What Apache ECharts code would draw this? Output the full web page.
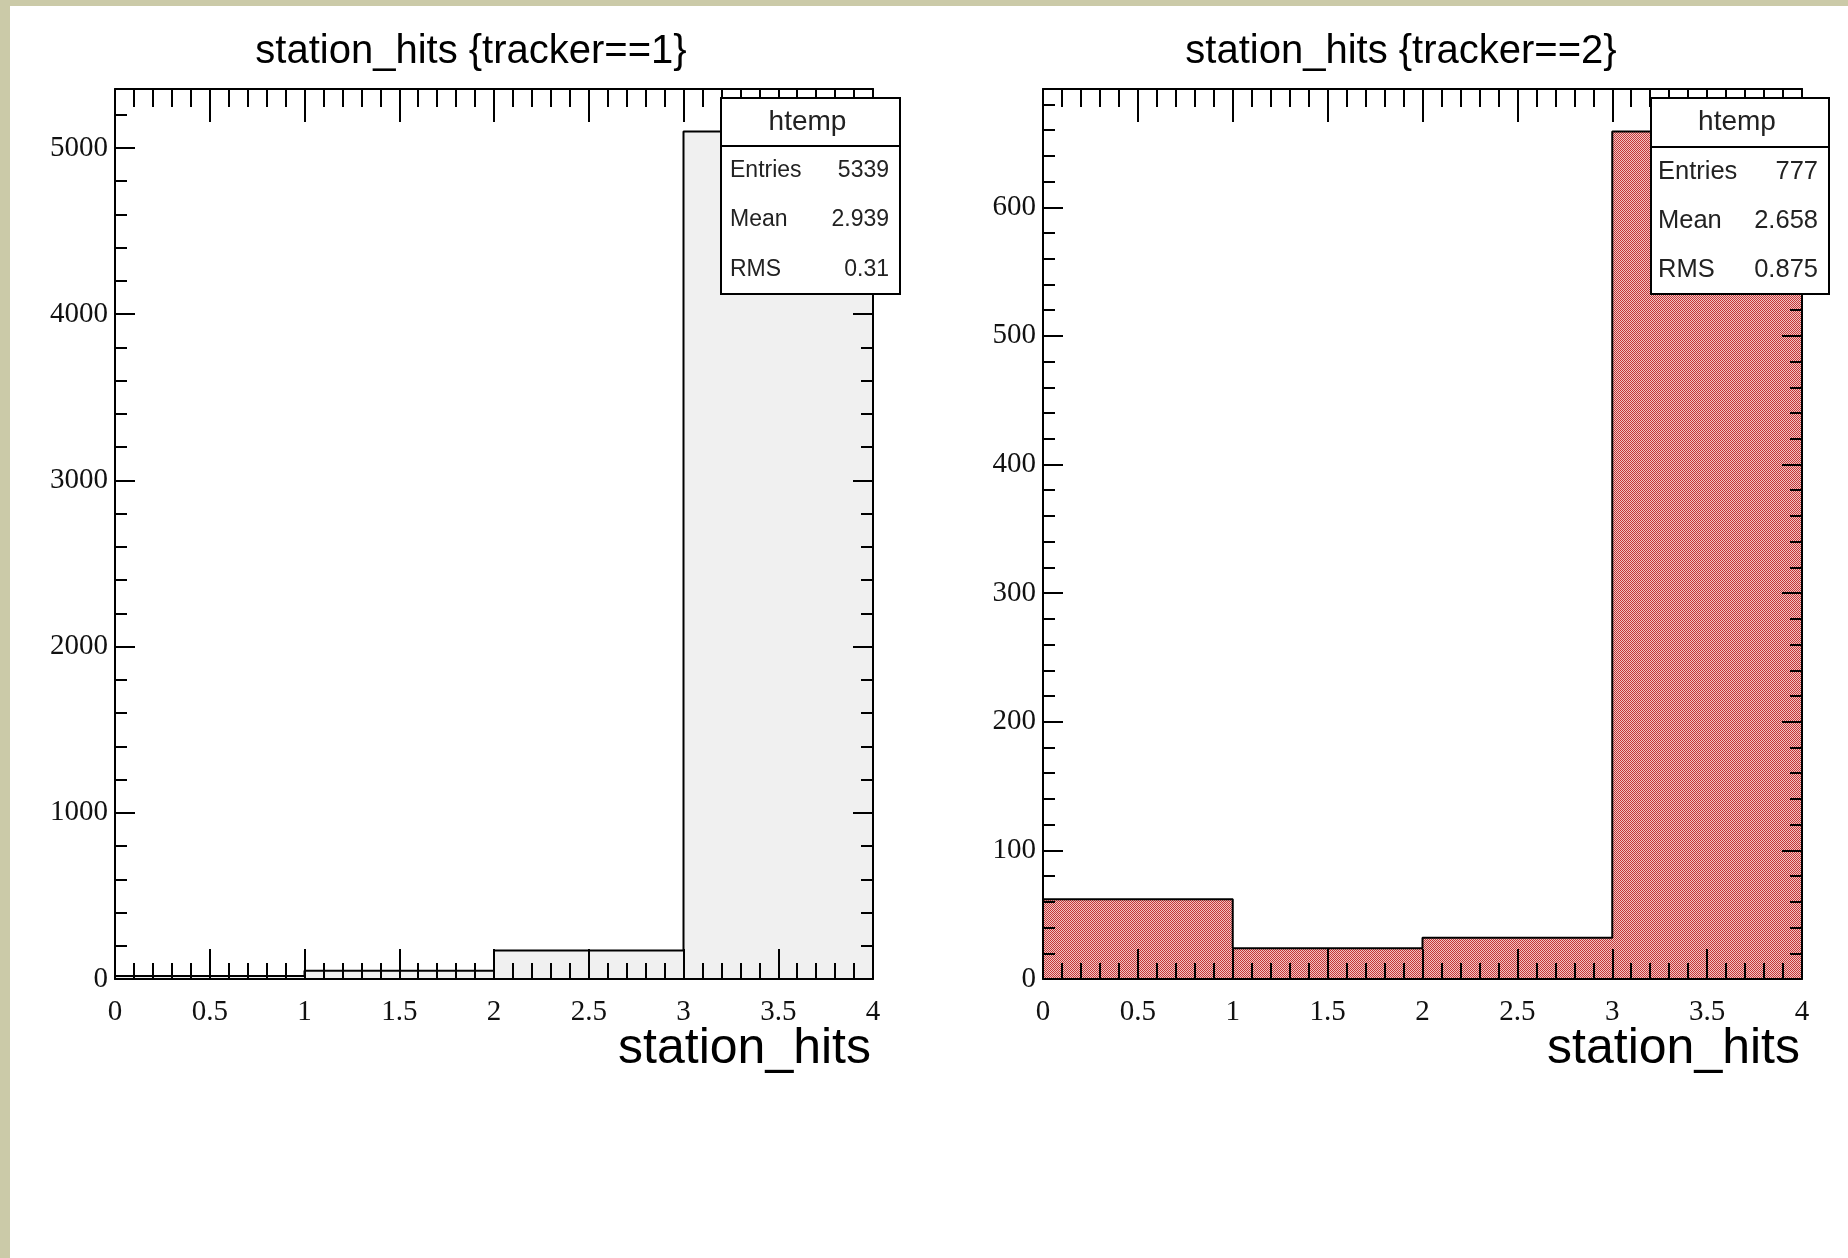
<!DOCTYPE html>
<html>
<head>
<meta charset="utf-8">
<script src="https://cdn.jsdelivr.net/npm/echarts@6/dist/echarts.min.js"></script>
<style>
  html, body { margin: 0; padding: 0; background: #ffffff; }
  #chart { width: 1848px; height: 1258px; }
</style>
</head>
<body>
<div id="chart"></div>
<script>
// Histogram contents: station_hits, one bin per integer value 0..3
const binEdges = [0, 1, 2, 3, 4];
const hitsTracker1 = [18, 50, 171, 5100];
const hitsTracker2 = [62, 24, 32, 659];

const panelTitles = ['station_hits {tracker==1}', 'station_hits {tracker==2}'];
const xAxisTitle = 'station_hits';
const histName = 'htemp';
const statNames = ['Entries', 'Mean', 'RMS'];

const yMajorStep = [1000, 100];
const yMinorStep = [200, 20];
const xMajorStep = 0.5;

// ---- helpers -------------------------------------------------------------

// ROOT style "%.4g" number formatting
function fmt4(v) { return String(Number(v.toPrecision(4))); }

// Entries / Mean / RMS of the filled values (bin low edges)
function histStats(counts) {
  let n = 0, s1 = 0, s2 = 0;
  counts.forEach((c, i) => {
    const x = binEdges[i];
    n += c; s1 += c * x; s2 += c * x * x;
  });
  const mean = s1 / n;
  const rms = Math.sqrt(s2 / n - mean * mean);
  return [String(n), fmt4(mean), fmt4(rms)];
}

// step outline points: hold each bin value across the bin
function stepPoints(counts) {
  const pts = counts.map((c, i) => [binEdges[i], c]);
  pts.push([binEdges[binEdges.length - 1], counts[counts.length - 1]]);
  return pts;
}

// fine dotted red fill
function dotPattern() {
  const c = document.createElement('canvas');
  c.width = 2; c.height = 2;
  const g = c.getContext('2d');
  g.fillStyle = '#f2c4c4';
  g.fillRect(0, 0, 2, 2);
  g.fillStyle = '#c43a3a';
  g.fillRect(0, 0, 1, 1);
  g.fillRect(1, 1, 1, 1);
  return c;
}

const panels = [
  { counts: hitsTracker1, fill: '#f0f0f0',
    grid: { left: 115, top: 89, width: 758, height: 890 },
    titleX: 471, box: { x: 721, y: 98, w: 179, h: 196, head: 48 },
    rowFont: 23, pad: 9 },
  { counts: hitsTracker2, fill: { image: dotPattern(), repeat: 'repeat' },
    grid: { left: 1043, top: 89, width: 759, height: 890 },
    titleX: 1401, box: { x: 1651, y: 98, w: 178, h: 196, head: 49 },
    rowFont: 25.5, pad: 7 }
];

const BLACK = '#000000';
const lineCommon = { color: BLACK, width: 2 };
const plainNumber = (v) => String(v);

function xAxes(gi) {
  const base = {
    gridIndex: gi, type: 'value', min: binEdges[0], max: binEdges[binEdges.length - 1],
    interval: xMajorStep, z: 5,
    splitLine: { show: false }, minorSplitLine: { show: false }
  };
  return [
    Object.assign({}, base, {
      position: 'bottom',
      axisLine: { show: true, onZero: false, lineStyle: lineCommon },
      axisTick: { show: true, inside: true, length: 30, lineStyle: lineCommon },
      minorTick: { show: true, splitNumber: 5, length: 16, lineStyle: lineCommon },
      axisLabel: { show: true, margin: 19, formatter: plainNumber,
                   fontFamily: 'Liberation Serif', fontSize: 29, color: '#111' }
    }),
    Object.assign({}, base, {
      position: 'top',
      axisLine: { show: true, onZero: false, lineStyle: lineCommon },
      axisTick: { show: true, inside: true, length: 33, lineStyle: lineCommon },
      minorTick: { show: true, splitNumber: 5, length: 18, lineStyle: lineCommon },
      axisLabel: { show: false }
    })
  ];
}

function yAxes(gi, ymax) {
  const base = {
    gridIndex: gi, type: 'value', min: 0, max: ymax, z: 5,
    splitLine: { show: false }, minorSplitLine: { show: false }, minorTick: { show: false }
  };
  const major = (pos, labels) => Object.assign({}, base, {
    position: pos, interval: yMajorStep[gi],
    axisLine: { show: true, onZero: false, lineStyle: lineCommon },
    axisTick: { show: true, inside: true, length: 20, lineStyle: lineCommon },
    axisLabel: labels
      ? { show: true, margin: 7, showMaxLabel: false, formatter: plainNumber,
          fontFamily: 'Liberation Serif', fontSize: 29, color: '#111' }
      : { show: false }
  });
  const minor = (pos) => Object.assign({}, base, {
    position: pos, interval: yMinorStep[gi],
    axisLine: { show: false, onZero: false },
    axisTick: { show: true, inside: true, length: 12, lineStyle: lineCommon },
    axisLabel: { show: false }
  });
  return [major('left', true), minor('left'), major('right', false), minor('right')];
}

const grids = [], xs = [], ys = [], series = [], graphics = [];

// page edge strips
graphics.push({ type: 'rect', z: 200, shape: { x: 0, y: 0, width: 10, height: 1258 }, style: { fill: '#cbcaa8' } });
graphics.push({ type: 'rect', z: 200, shape: { x: 0, y: 0, width: 1848, height: 6 }, style: { fill: '#cbcaa8' } });

panels.forEach((p, gi) => {
  const ymax = Math.max.apply(null, p.counts) * 1.05;
  grids.push(Object.assign({ show: false }, p.grid));
  xs.push.apply(xs, xAxes(gi));
  ys.push.apply(ys, yAxes(gi, ymax));

  series.push({
    type: 'line', xAxisIndex: gi * 2, yAxisIndex: gi * 4,
    step: 'end', symbol: 'none', silent: true, z: 2,
    data: stepPoints(p.counts),
    lineStyle: { color: BLACK, width: 2 },
    areaStyle: { color: p.fill, opacity: 1 }
  });

  // panel title
  graphics.push({
    type: 'text', z: 100, x: p.titleX, y: 52,
    style: { text: panelTitles[gi], font: '40px "Liberation Sans"', fill: '#000',
             textAlign: 'center', textVerticalAlign: 'middle', align: 'center', verticalAlign: 'middle' }
  });
  // x axis title, right aligned to the frame
  graphics.push({
    type: 'text', z: 100, x: p.grid.left + p.grid.width - 2, y: 1049,
    style: { text: xAxisTitle, font: '50px "Liberation Sans"', fill: '#000',
             textAlign: 'right', textVerticalAlign: 'middle', align: 'right', verticalAlign: 'middle' }
  });

  // statistics box, drawn above the frame ticks
  const b = p.box;
  const vals = histStats(p.counts);
  const rowsTop = b.y + b.head;
  const rowH = (b.h - b.head) / 3;
  graphics.push({ type: 'rect', z: 150, shape: { x: b.x, y: b.y, width: b.w, height: b.h },
    style: { fill: '#ffffff', stroke: BLACK, lineWidth: 2 } });
  graphics.push({ type: 'line', z: 151, shape: { x1: b.x, y1: rowsTop, x2: b.x + b.w, y2: rowsTop },
    style: { stroke: BLACK, lineWidth: 2 } });
  graphics.push({ type: 'text', z: 151, x: b.x + b.w / 2 - 3, y: b.y + b.head / 2,
    style: { text: histName, font: '28px "Liberation Sans"', fill: '#222',
             textAlign: 'center', textVerticalAlign: 'middle', align: 'center', verticalAlign: 'middle' } });
  statNames.forEach((name, r) => {
    const cy = rowsTop + rowH * (r + 0.5);
    graphics.push({ type: 'text', z: 151, x: b.x + p.pad, y: cy,
      style: { text: name, font: p.rowFont + 'px "Liberation Sans"', fill: '#222',
               textAlign: 'left', textVerticalAlign: 'middle', align: 'left', verticalAlign: 'middle' } });
    graphics.push({ type: 'text', z: 151, x: b.x + b.w - 11, y: cy,
      style: { text: vals[r], font: p.rowFont + 'px "Liberation Sans"', fill: '#222',
               textAlign: 'right', textVerticalAlign: 'middle', align: 'right', verticalAlign: 'middle' } });
  });
});

const chart = echarts.init(document.getElementById('chart'), null, { renderer: 'canvas' });
chart.setOption({
  backgroundColor: '#ffffff',
  animation: false,
  grid: grids,
  xAxis: xs,
  yAxis: ys,
  series: series,
  graphic: { elements: graphics }
});
</script>
</body>
</html>
